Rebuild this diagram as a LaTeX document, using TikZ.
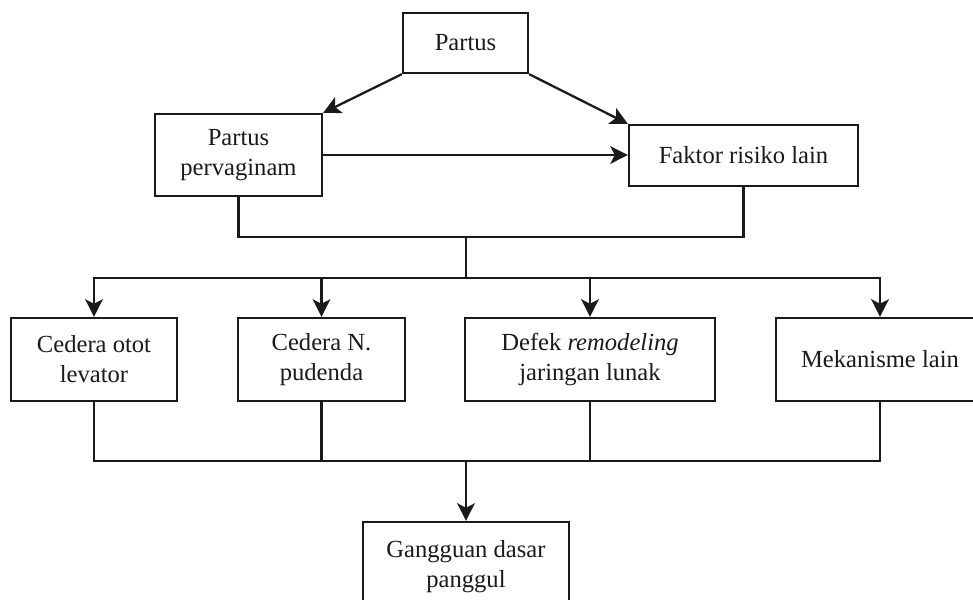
\documentclass[tikz,border=0pt]{standalone}
\usepackage{fontspec}
\setmainfont{Liberation Serif}
\usetikzlibrary{arrows.meta}
\definecolor{ink}{HTML}{1A1A1A}
\tikzset{
  box/.style={draw=ink, line width=1.3pt, align=center, inner sep=0pt, text=ink, font=\fontsize{14}{17}\selectfont},
  conn/.style={draw=ink, line width=1.3pt},
  arr/.style={conn, -{Stealth[length=10pt,width=10pt,inset=2.5pt]}}
}

\begin{document}
\begin{tikzpicture}[x=0.02cm,y=-0.02cm]
  \useasboundingbox (0,0) rectangle (973,599);
  % top
  \node[box, minimum width=2.5cm, minimum height=1.2cm] (partus) at (465.5,43) {Partus};
  \node[box, minimum width=3.34cm, minimum height=1.64cm] (pervag) at (238.5,155) {Partus\\pervaginam};
  \node[box, minimum width=4.58cm, minimum height=1.22cm] (faktor) at (743.5,155.5) {Faktor risiko lain};
  % middle row
  \node[box, minimum width=3.32cm, minimum height=1.66cm] (otot) at (94,359.5) {Cedera otot\\levator};
  \node[box, minimum width=3.34cm, minimum height=1.66cm] (pudenda) at (321.5,359.5) {Cedera N.\\pudenda};
  \node[box, minimum width=5.0cm, minimum height=1.66cm] (defek) at (590,359.5) {Defek \textit{remodeling}\\jaringan lunak};
  \node[box, minimum width=4.16cm, minimum height=1.66cm] (lain) at (880,359.5) {Mekanisme lain};
  % bottom
  \node[box, minimum width=4.12cm, minimum height=1.8cm] (gangguan) at (466,567) {Gangguan dasar\\panggul};

  \coordinate (j1) at (466,237);
  \coordinate (j2) at (466,278);
  \coordinate (j3) at (466,461);

  \draw[arr] (partus.south west) -- (pervag.north east);
  \draw[arr] (partus.south east) -- (faktor.north west);
  \draw[arr] (pervag.east) -- (pervag.east -| faktor.west);
  \draw[conn] (pervag.south) |- (j1) -| (faktor.south);
  \draw[conn] (j1) -- (j2);
  \foreach \n in {otot,pudenda,defek,lain}
    \draw[arr] (j2) -| (\n.north);
  \foreach \n in {otot,pudenda,defek,lain}
    \draw[conn] (\n.south) |- (j3);
  \draw[arr] (j3) -- (gangguan.north);
\end{tikzpicture}
\end{document}
